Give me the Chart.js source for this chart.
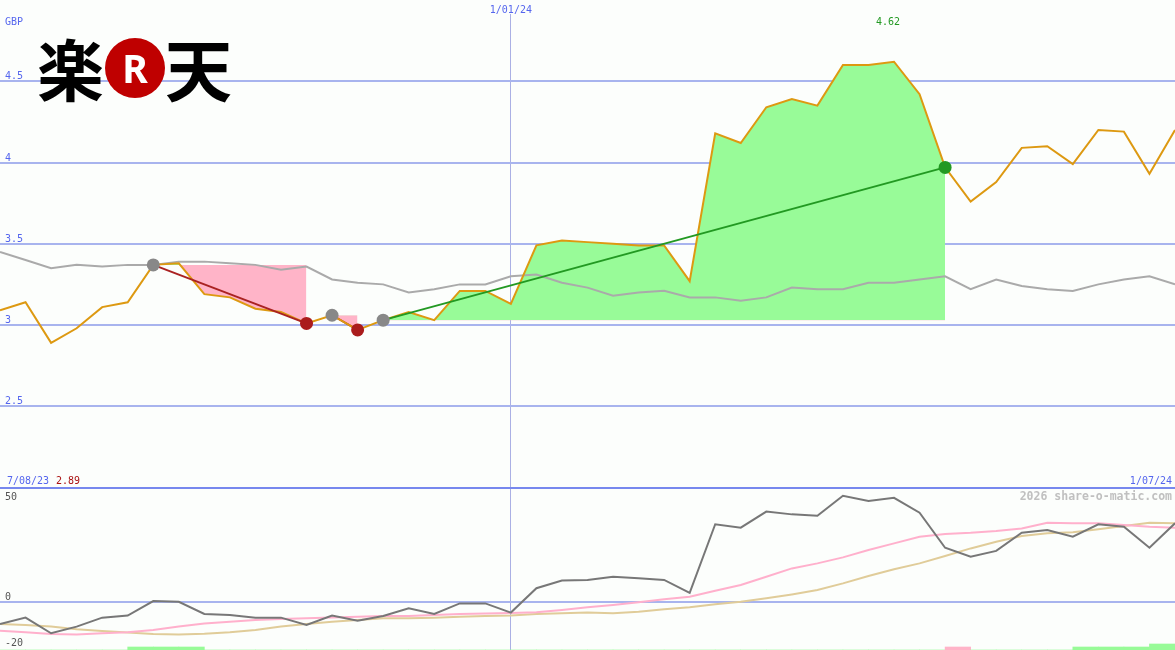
<!DOCTYPE html>
<html lang="en">
<head>
  <meta charset="UTF-8" />
  <title>楽天 share chart</title>
  <script src="https://cdn.jsdelivr.net/npm/chart.js"></script>
  <style>
    body { margin: 0; background: #fcfefc; }
    #wrap { position: relative; width: 1175px; height: 650px; overflow: hidden; }
    .kanji { position: absolute; top: 33px; font: 700 67px/67px "Noto Sans CJK JP"; color: #000; }
    #mark { position: absolute; left: 105px; top: 38px; width: 60px; height: 60px; border-radius: 50%;
            background: #bf0000; color: #fff; font: 700 39px/60px "Noto Sans"; text-align: center; }
  </style>
</head>
<body>
  <div id="wrap">
    <canvas id="chart" width="1175" height="650"></canvas>
    <span class="kanji" style="left:37px">楽</span>
    <div id="mark">R</div>
    <span class="kanji" style="left:165px">天</span>
  </div>

  <script>
    // weekly closes, 7/08/23 .. 1/07/24 (47 weeks)
    const firstDate = "7/08/23";
    const lastDate = "1/07/24";
    const midDate = "1/01/24";
    const midIndex = 20;
    const currency = "GBP";

    const price = [3.09, 3.14, 2.89, 2.98, 3.11, 3.14, 3.37, 3.38, 3.19, 3.17,
                   3.10, 3.08, 3.01, 3.06, 2.97, 3.03, 3.08, 3.03, 3.21, 3.21,
                   3.13, 3.49, 3.52, 3.51, 3.50, 3.49, 3.49, 3.27, 4.18, 4.12,
                   4.34, 4.39, 4.35, 4.60, 4.60, 4.62, 4.42, 3.97, 3.76, 3.88,
                   4.09, 4.10, 3.99, 4.20, 4.19, 3.93, 4.20];
    const average = [3.45, 3.40, 3.35, 3.37, 3.36, 3.37, 3.37, 3.39, 3.39, 3.38,
                     3.37, 3.34, 3.36, 3.28, 3.26, 3.25, 3.20, 3.22, 3.25, 3.25,
                     3.30, 3.31, 3.26, 3.23, 3.18, 3.20, 3.21, 3.17, 3.17, 3.15,
                     3.17, 3.23, 3.22, 3.22, 3.26, 3.26, 3.28, 3.30, 3.22, 3.28,
                     3.24, 3.22, 3.21, 3.25, 3.28, 3.30, 3.25];

    // lower panel
    const oscillator = [-9.6, -6.8, -13.6, -10.7, -6.8, -5.9, 0.4, 0.1, -5.2, -5.7,
                        -6.8, -6.8, -10, -5.9, -8.1, -6.1, -2.7, -5.2, -0.6, -0.6,
                        -4.6, 6.0, 9.3, 9.6, 11.0, 10.3, 9.6, 4.0, 33.8, 32.3,
                        39.3, 38.1, 37.5, 46.2, 43.9, 45.3, 38.8, 23.6, 19.7, 22.2,
                        30.1, 31.3, 28.4, 33.8, 32.7, 23.6, 34.2];
    const fastAvg = [-12.5, -13.2, -13.9, -14.1, -13.6, -13.2, -12.2, -10.7, -9.3, -8.6,
                     -7.8, -7.4, -7.1, -6.7, -6.4, -6.1, -6.1, -5.7, -5.2, -5.0,
                     -4.8, -4.5, -3.5, -2.3, -1.3, -0.1, 1.2, 2.3, 4.9, 7.4,
                     11.0, 14.6, 16.8, 19.4, 22.6, 25.5, 28.4, 29.6, 30.1, 30.9,
                     32.0, 34.5, 34.2, 34.2, 33.5, 32.7, 32.3];
    const slowAvg = [-9.6, -10, -10.7, -11.9, -12.6, -13.3, -13.9, -14.1, -13.8, -13.2,
                     -12.2, -10.7, -9.6, -8.6, -7.8, -7.1, -7.1, -6.8, -6.4, -6.1,
                     -5.9, -5.2, -4.9, -4.6, -4.9, -4.2, -3.2, -2.3, -1.0, 0.1,
                     1.6, 3.3, 5.2, 8.1, 11.3, 14.2, 16.8, 20.0, 23.3, 26.2,
                     28.7, 29.9, 30.3, 31.6, 33.0, 34.5, 34.2];
    // signal strip under the lower panel, one per week (+ buy, - sell)
    const signal = [0, 0, 0, 0, 0, 1, 1, 1, 0, 0, 0, 0, 0, 0, 0, 0, 0, 0, 0, 0, 0, 0, 0,
                    0, 0, 0, 0, 0, 0, 0, 0, 0, 0, 0, 0, 0, 0, -1, 0, 0, 0, 0, 1, 1, 1, 2];

    // trades: entry / exit week
    const tradeEntry = [6, 13, 15];
    const tradeExit = [12, 14, 37];

    const mainTicks = [4.5, 4, 3.5, 3, 2.5];
    const lowerTicks = [50, 0, -20];

    const blue = "#5566ee";
    const green = "#98fb98";
    const pink = "#ffb4c8";
    const pts = arr => arr.map((v, i) => ({ x: i, y: v }));

    const datasets = [];

    // trade markers on top
    const markers = [];
    const markerColors = [];
    tradeEntry.forEach((e, k) => {
      const x = tradeExit[k];
      markers.push({ x: e, y: price[e] });
      markerColors.push("#888888");
      markers.push({ x: x, y: price[x] });
      markerColors.push(price[x] >= price[e] ? "#229922" : "#aa1c1c");
    });
    datasets.push({ data: markers, showLine: false, pointRadius: 6.5, pointBorderWidth: 0,
                    pointBackgroundColor: markerColors, yAxisID: "y", order: 0 });

    tradeEntry.forEach((e, k) => {
      const x = tradeExit[k];
      const win = price[x] >= price[e];
      // trade line
      datasets.push({ data: [{ x: e, y: price[e] }, { x: x, y: price[x] }],
                      borderColor: win ? "#229922" : "#aa2222", borderWidth: 2,
                      pointRadius: 0, yAxisID: "y", order: x - e > 1 ? 1 : 4 });
      // area against entry level
      datasets.push({ data: pts(price).slice(e, x + 1), borderWidth: 0, pointRadius: 0,
                      fill: { target: { value: price[e] }, above: green, below: pink },
                      yAxisID: "y", order: 20 });
    });

    datasets.push({ data: pts(price), borderColor: "#dd9911", borderWidth: 2, pointRadius: 0,
                    yAxisID: "y", order: 2 });
    datasets.push({ data: pts(average), borderColor: "#aaaaaa", borderWidth: 2, pointRadius: 0,
                    yAxisID: "y", order: 9 });

    datasets.push({ data: pts(oscillator), borderColor: "#777777", borderWidth: 2, pointRadius: 0,
                    yAxisID: "y2", order: 6 });
    datasets.push({ data: pts(fastAvg), borderColor: "#ffb0cc", borderWidth: 2, pointRadius: 0,
                    yAxisID: "y2", order: 7 });
    datasets.push({ data: pts(slowAvg), borderColor: "#e0cc99", borderWidth: 2, pointRadius: 0,
                    yAxisID: "y2", order: 8 });
    datasets.push({ type: "bar", data: signal.map((s, i) => ({ x: i + 0.5, y: Math.abs(s) })),
                    backgroundColor: signal.map(s => s < 0 ? pink : green),
                    barPercentage: 1, categoryPercentage: 1, borderWidth: 0,
                    yAxisID: "yb", order: 5 });

    const labelPlugin = {
      id: "labels",
      afterDraw(chart) {
        const ctx = chart.ctx;
        const { x, y, y2 } = chart.scales;
        ctx.save();
        ctx.font = '10px "DejaVu Sans Mono"';
        ctx.textAlign = "left";
        ctx.fillStyle = blue;
        ctx.fillText(currency, 5, 25);
        mainTicks.forEach(v => ctx.fillText(String(v), 5, y.getPixelForValue(v) - 2));

        // date marker at top
        const mx = x.getPixelForValue(midIndex);
        ctx.fillStyle = "#fcfefc";
        ctx.fillRect(mx - 25, 0, 50, 14);
        ctx.fillStyle = blue;
        ctx.textAlign = "center";
        ctx.fillText(midDate, mx, 12.5);

        // high
        const hi = price.indexOf(Math.max(...price));
        ctx.fillStyle = "#229922";
        ctx.fillText(Math.max(...price).toFixed(2), x.getPixelForValue(hi) - 6, 25);

        // panel divider labels
        const divY = y.getPixelForValue(2) - 4;
        ctx.textAlign = "left";
        ctx.fillStyle = blue;
        ctx.fillText(firstDate, 7, divY);
        ctx.fillStyle = "#aa1111";
        ctx.fillText(Math.min(...price).toFixed(2), 56, divY);
        ctx.fillStyle = blue;
        ctx.textAlign = "right";
        ctx.fillText(lastDate, 1172, divY);

        ctx.font = 'bold 11.5px "DejaVu Sans Mono"';
        ctx.fillStyle = "#c0c0c0";
        ctx.fillText("2026 share-o-matic.com", 1172, 500);

        ctx.font = '10px "DejaVu Sans Mono"';
        ctx.textAlign = "left";
        ctx.fillStyle = "#555555";
        lowerTicks.forEach(v => {
          const py = Math.max(y2.getPixelForValue(v) - 2, y.getPixelForValue(2) + 12.5);
          ctx.fillText(String(v), 5, py);
        });
        ctx.restore();
      }
    };

    new Chart(document.getElementById("chart"), {
      type: "line",
      data: { datasets },
      plugins: [labelPlugin],
      options: {
        responsive: false,
        animation: false,
        events: [],
        layout: { padding: 0, autoPadding: false },
        elements: { line: { tension: 0 } },
        plugins: {
          legend: { display: false },
          tooltip: { enabled: false },
          filler: { propagate: false }
        },
        scales: {
          x: {
            type: "linear", min: 0, max: 46, offset: false,
            afterBuildTicks: s => { s.ticks = [{ value: midIndex }]; },
            ticks: { display: false },
            grid: { color: "#aab0e4", lineWidth: 1, drawTicks: false, offset: false },
            border: { display: false }
          },
          y: {
            min: 1, max: 5,
            afterBuildTicks: s => { s.ticks = [2, ...mainTicks].map(v => ({ value: v })); },
            ticks: { display: false },
            grid: { color: c => c.tick.value === 2 ? "#7788ee" : "#a8b4ee", lineWidth: 2, drawTicks: false },
            border: { display: false }
          },
          y2: {
            min: -20.87, max: 261.74,
            afterBuildTicks: s => { s.ticks = [{ value: 0 }]; },
            ticks: { display: false },
            grid: { color: "#a8b4ee", lineWidth: 2, drawTicks: false },
            border: { display: false }
          },
          yb: { display: false, min: 0, max: 650 / 3 }
        }
      }
    });
  </script>
</body>
</html>
